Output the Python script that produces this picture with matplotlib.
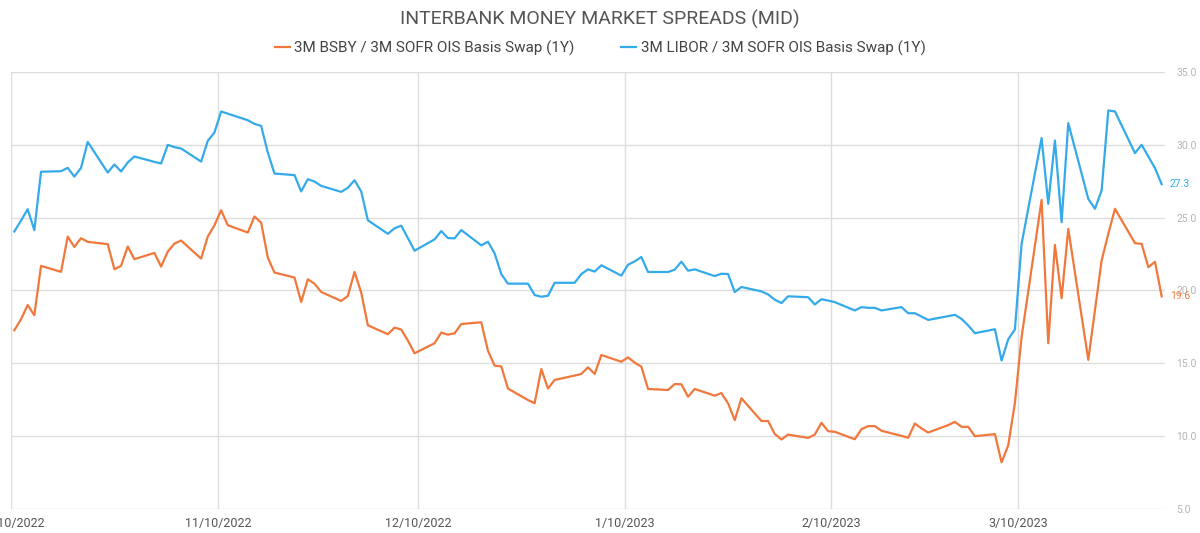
import pandas as pd
import matplotlib.pyplot as plt
import matplotlib.dates as mdates

plt.rcParams['font.family'] = ['Roboto', 'DejaVu Sans']

# business days shown in the chart (Oct 10 2022 - Mar 31 2023)
dates = pd.bdate_range("2022-10-10", "2023-03-31")

bsby = [
    # Oct
    17.27, 18.02, 19.0, 18.3, 21.69, 21.28, 23.7, 22.99, 23.59, 23.34, 23.18, 21.46, 21.69, 23.02, 22.15, 22.58,
    # Nov
    21.64, 22.67, 23.22, 23.43, 22.19, 23.7, 24.48, 25.51, 24.48, 23.98, 25.08, 24.66, 22.26, 21.23, 20.89, 19.21,
    20.77, 20.47, 19.9, 19.28, 19.63, 21.28,
    # Dec
    19.86, 17.61, 17.0, 17.45, 17.32, 16.56, 15.69, 16.38, 17.11, 16.97, 17.06, 17.7, 17.82, 15.87, 14.84, 14.79,
    13.27, 12.48, 12.26, 14.61, 13.27, 13.86,
    # Jan
    14.16, 14.27, 14.73, 14.27, 15.57, 15.11, 15.41, 15.05, 14.77, 13.24, 13.17, 13.58, 13.56, 12.71, 13.24, 12.78,
    12.96, 12.25, 11.1, 12.6, 11.04, 11.04,
    # Feb
    10.15, 9.77, 10.11, 9.88, 10.11, 10.92, 10.34, 10.3, 9.79, 10.48, 10.69, 10.69, 10.37, 10.02, 9.89, 10.87,
    10.53, 10.25, 10.76, 10.98,
    # Mar
    10.64, 10.64, 10.0, 10.14, 8.2, 9.37, 12.28, 16.8, 26.22, 16.38, 23.13, 19.47, 24.23, 15.24, 18.65, 22.06,
    23.89, 25.61, 23.25, 23.2, 21.6, 21.97, 19.6,
]

libor = [
    # Oct
    24.05, 24.8, 25.58, 24.14, 28.15, 28.19, 28.42, 27.82, 28.42, 30.2, 28.1, 28.65, 28.17, 28.79, 29.2, 28.83,
    # Nov
    28.72, 30.0, 29.84, 29.75, 28.85, 30.27, 30.85, 32.29, 32.14, 31.69, 31.44, 31.3, 29.47, 28.03, 27.92, 26.8,
    27.64, 27.48, 27.18, 26.77, 27.05, 27.57,
    # Dec
    26.8, 24.82, 23.89, 24.27, 24.45, 23.6, 22.73, 23.51, 24.08, 23.6, 23.58, 24.15, 23.1, 23.35, 22.55, 21.13,
    20.47, 20.47, 19.69, 19.57, 19.64, 20.53,
    # Jan
    20.53, 21.13, 21.45, 21.3, 21.73, 21.02, 21.77, 22.0, 22.3, 21.27, 21.27, 21.43, 21.98, 21.36, 21.45, 20.99,
    21.15, 21.13, 19.89, 20.24, 19.94, 19.73,
    # Feb
    19.37, 19.14, 19.6, 19.54, 19.04, 19.4, 19.31, 19.2, 18.63, 18.86, 18.81, 18.81, 18.63, 18.86, 18.44, 18.44,
    18.21, 17.98, 18.24, 18.33,
    # Mar
    18.05, 17.6, 17.07, 17.34, 15.19, 16.65, 17.33, 23.2, 30.46, 25.95, 30.3, 24.69, 31.49, 26.29, 25.61, 26.87,
    32.36, 32.29, 29.43, 30.0, 29.2, 28.4, 27.3,
]

names = ["3M BSBY / 3M SOFR OIS Basis Swap (1Y)", "3M LIBOR / 3M SOFR OIS Basis Swap (1Y)"]
colors = ["#F0783C", "#35AAEA"]
tick_dates = pd.date_range("2022-10-01", "2023-03-01", freq="MS") + pd.Timedelta(days=9)

df = pd.DataFrame({"date": dates + pd.Timedelta(hours=12), "bsby": bsby, "libor": libor})

fig = plt.figure(figsize=(12, 5.33), dpi=100)
ax = fig.add_axes([11 / 1200, 1 - 509 / 533, 1154 / 1200, 437 / 533])

ax.plot(df["date"], df["bsby"], color=colors[0], lw=1.6, label=names[0])
ax.plot(df["date"], df["libor"], color=colors[1], lw=1.6, label=names[1])

ax.set_ylim(5, 35)
ax.set_xlim(pd.Timestamp("2022-10-10"), pd.Timestamp("2023-04-01"))
ax.set_yticks([5, 10, 15, 20, 25, 30, 35])
ax.yaxis.set_major_formatter(plt.FuncFormatter(lambda v, p: f"{v:.1f}"))
ax.yaxis.tick_right()
ax.set_xticks(tick_dates)
ax.xaxis.set_major_formatter(plt.FuncFormatter(
    lambda v, p: (lambda d: f"{d.month}/{d.day}/{d.year}")(mdates.num2date(v))))
ax.tick_params(axis="y", length=0, pad=8, labelsize=7.5, labelcolor="#b5b5b5")
ax.tick_params(axis="x", length=0, pad=6, labelsize=9, labelcolor="#555555")
ax.grid(True, color="#dddddd", lw=1)
for s in ax.spines.values():
    s.set_visible(False)

# end-of-series value labels
for col, c in zip(["libor", "bsby"], [colors[1], colors[0]]):
    last = df[col].iloc[-1]
    ax.annotate(f"{last:.1f}", xy=(df["date"].iloc[-1], last), xytext=(6, 0),
                textcoords="offset points", va="center", ha="left", fontsize=7.5, color=c)

fig.text(0.5, 1 - 19 / 533, "INTERBANK MONEY MARKET SPREADS (MID)", ha="center", va="center",
         fontsize=14, color="#555555")
fig.legend(loc="center", bbox_to_anchor=(0.5, 1 - 48 / 533), ncol=2, frameon=False,
           fontsize=11, handlelength=1.0, handletextpad=0.3, columnspacing=3.0,
           labelcolor="#444444")

plt.savefig("out.png", dpi=100)
